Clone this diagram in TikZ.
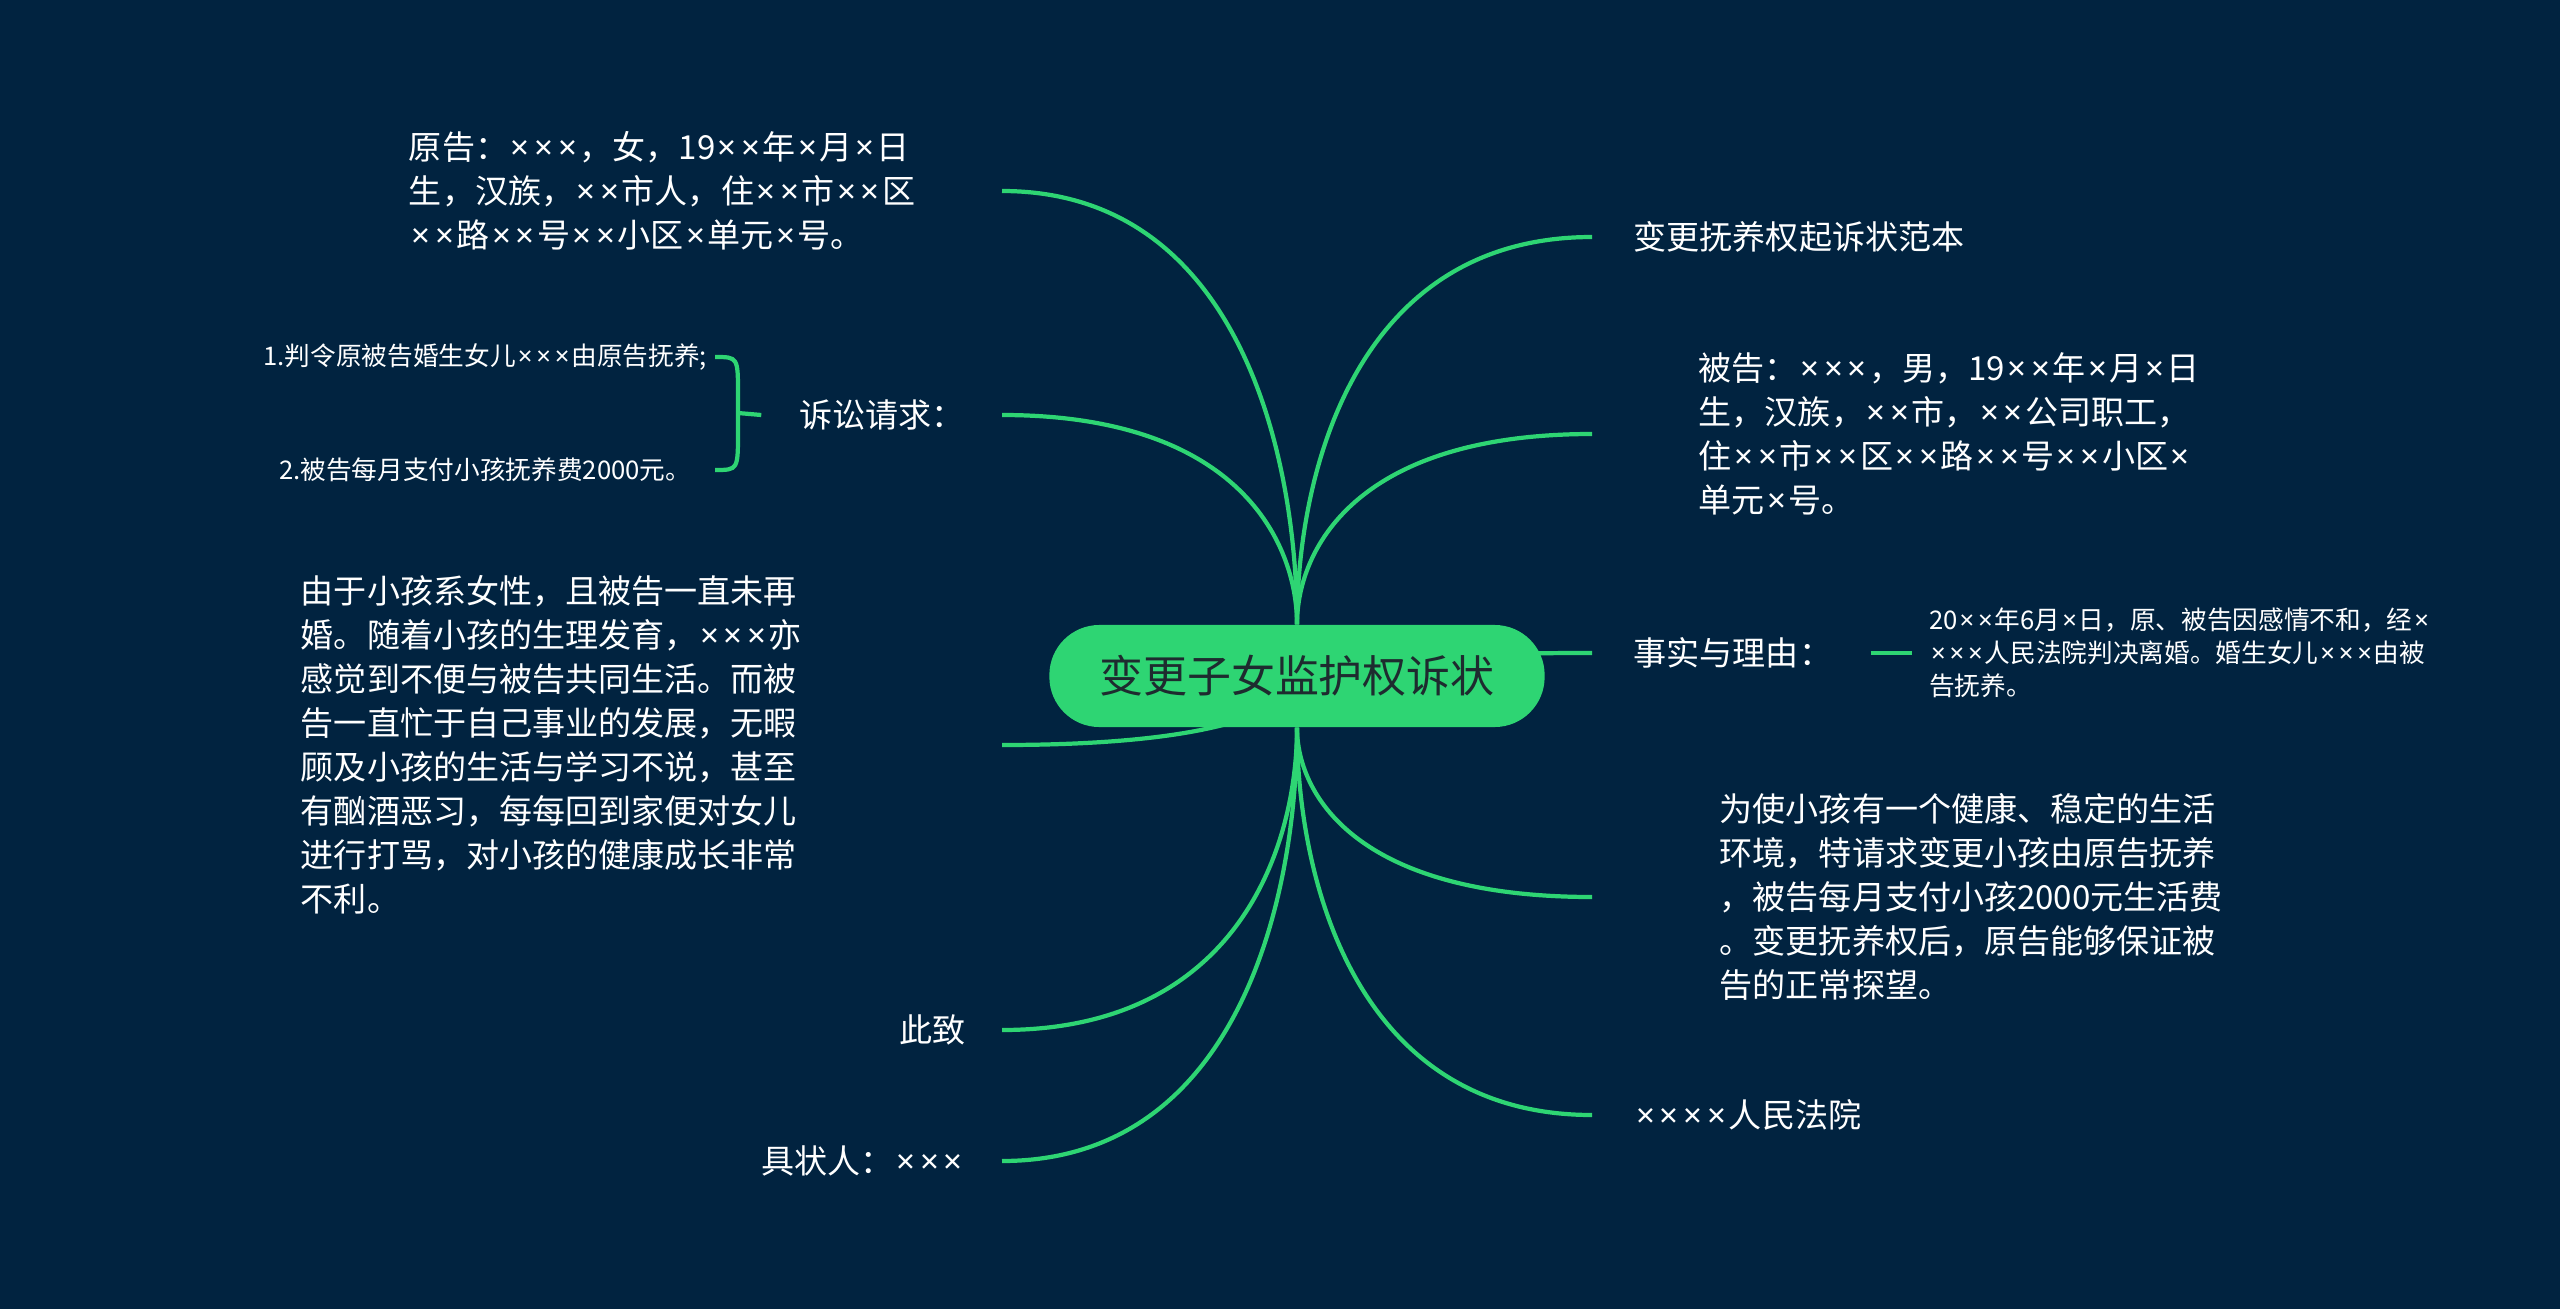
\documentclass[tikz,border=0pt]{standalone}
\usepackage{fontspec}
\setmainfont{Noto Sans CJK SC}
\newfontfamily\latinfont{Noto Sans}
\usepackage{xcolor}
\usetikzlibrary{positioning, calc, backgrounds}
\definecolor{bgnavy}{HTML}{012340}
\definecolor{mintgreen}{HTML}{2ED573}
\definecolor{rootink}{HTML}{1E2B2F}
\newcommand{\tms}{\makebox[0.72em]{\latinfont ×}}
\newcommand{\branch}[2]{\draw[branch] (#1) .. controls ($(#1)!0.38!(#1|-#2)$) and ($(#2)!0.81!(#1|-#2)$) .. (#2);}

\begin{document}
\begin{tikzpicture}[x=0.01cm, y=-0.01cm,
    branch/.style={draw=mintgreen, line width=1.2pt},
    leaf/.style={text=white, font=\fontsize{9.4}{12.5}\selectfont, inner ysep=0pt, align=left},
    small/.style={text=white, font=\fontsize{7.3}{9.3}\selectfont, inner ysep=0pt}]
    % Root
    \node[fill=mintgreen, rounded corners=0.5cm, minimum width=4.95cm, minimum height=1.02cm, text=rootink, font=\fontsize{12.5}{15}\selectfont] (root) at (1297,676) {变更子女监护权诉状};

    % Left side
    \node[leaf, anchor=east, text width=5.92cm, inner xsep=0pt] (plaintiff) at (1002,191) {原告：\tms\tms\tms，女，19\tms\tms 年\tms 月\tms 日\\生，汉族，\tms\tms 市人，住\tms\tms 市\tms\tms 区\\\tms\tms 路\tms\tms 号\tms\tms 小区\tms 单元\tms 号。};
    \node[leaf, anchor=east, inner xsep=0.37cm] (claim) at (1002,415) {诉讼请求：};
    \node[small, anchor=east, text width=4.5cm, align=center, inner xsep=0.04cm] (claim1) at (715,357) {1.判令原被告婚生女儿\tms\tms\tms 由原告抚养;};
    \node[small, anchor=east, text width=4.5cm, align=center, inner xsep=0.04cm] (claim2) at (715,470) {2.被告每月支付小孩抚养费2000元。};
    \node[leaf, anchor=east, text width=7.0cm, inner xsep=0pt] (reason) at (1002,745) {由于小孩系女性，且被告一直未再\\婚。随着小孩的生理发育，\tms\tms\tms 亦\\感觉到不便与被告共同生活。而被\\告一直忙于自己事业的发展，无暇\\顾及小孩的生活与学习不说，甚至\\有酗酒恶习，每每回到家便对女儿\\进行打骂，对小孩的健康成长非常\\不利。};
    \node[leaf, anchor=east, inner xsep=0.36cm] (regards) at (1002,1030) {此致};
    \node[leaf, anchor=east, inner xsep=0.36cm] (signer) at (1002,1161) {具状人：\tms\tms\tms};

    % Right side
    \node[leaf, anchor=west, inner xsep=0.41cm] (title) at (1592,237) {变更抚养权起诉状范本};
    \node[leaf, anchor=west, inner xsep=1.06cm] (defendant) at (1592,434) {被告：\tms\tms\tms，男，19\tms\tms 年\tms 月\tms 日\\生，汉族，\tms\tms 市，\tms\tms 公司职工，\\住\tms\tms 市\tms\tms 区\tms\tms 路\tms\tms 号\tms\tms 小区\tms\\单元\tms 号。};
    \node[leaf, anchor=west, text width=1.95cm, inner xsep=0.41cm] (fact) at (1592,653) {事实与理由：};
    \node[small, right=0.41cm of fact, text width=5.1cm, align=left, inner xsep=0.17cm] (factdetail) {20\tms\tms 年6月\tms 日，原、被告因感情不和，经\tms\\\tms\tms\tms 人民法院判决离婚。婚生女儿\tms\tms\tms 由被\\告抚养。};
    \node[leaf, anchor=west, inner xsep=1.27cm] (request) at (1592,897) {为使小孩有一个健康、稳定的生活\\环境，特请求变更小孩由原告抚养\\，被告每月支付小孩2000元生活费\\。变更抚养权后，原告能够保证被\\告的正常探望。};
    \node[leaf, anchor=west, inner xsep=0.41cm] (court) at (1592,1115) {\tms\tms\tms\tms 人民法院};

    \begin{scope}[on background layer]
        \fill[bgnavy] (0,0) rectangle (2560,1309);
        % Branches
        \branch{root.north}{plaintiff.east}
        \branch{root.north}{claim.east}
        \branch{root.center}{reason.east}
        \branch{root.south}{regards.east}
        \branch{root.south}{signer.east}
        \branch{root.north}{title.west}
        \branch{root.north}{defendant.west}
        \branch{root.center}{fact.west}
        \branch{root.south}{request.west}
        \branch{root.south}{court.west}
    \end{scope}

    % Brace and sub branch
    \coordinate (brace) at (738,413);
    \draw[branch] (claim1.east) .. controls (738,357) .. (738,395) -- (738,431) .. controls (738,470) .. (claim2.east);
    \draw[branch] (brace) -- (claim.west);
    \draw[branch] (fact.east) -- (factdetail.west);
\end{tikzpicture}
\end{document}
